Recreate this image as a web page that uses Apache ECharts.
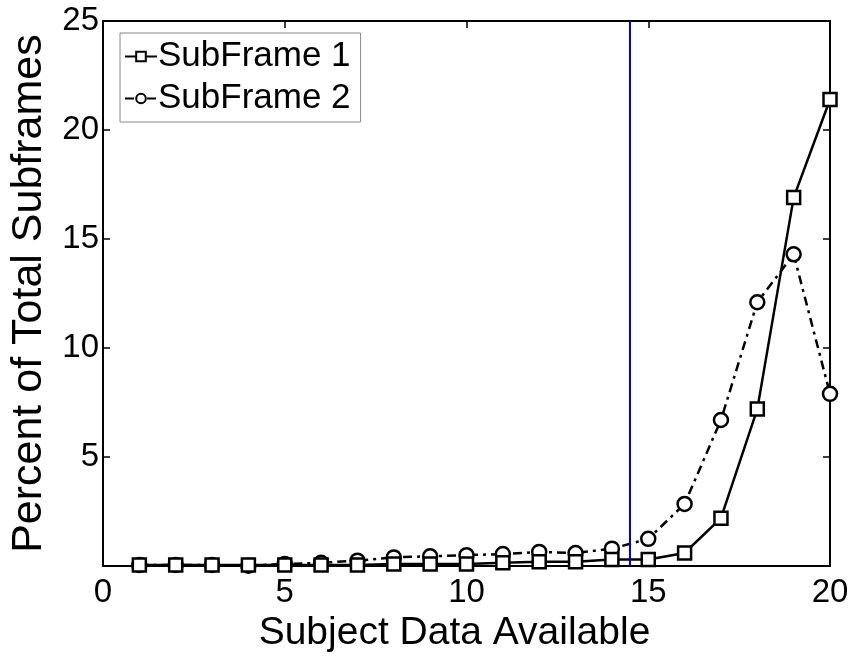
<!DOCTYPE html>
<html>
<head>
<meta charset="utf-8">
<script src="https://cdn.jsdelivr.net/npm/echarts@6/dist/echarts.min.js"></script>
<style>
  html, body { margin: 0; padding: 0; background: #fff; }
  #chart { width: 854px; height: 658px; }
</style>
</head>
<body>
<div id="chart"></div>
<script>
// data
const subjects = [1, 2, 3, 4, 5, 6, 7, 8, 9, 10, 11, 12, 13, 14, 15, 16, 17, 18, 19, 20]
const subFrame1 = [0.05, 0.05, 0.05, 0.05, 0.05, 0.05, 0.05, 0.1, 0.1, 0.1, 0.15, 0.2, 0.2, 0.3, 0.3, 0.6, 2.2, 7.2, 16.9, 21.4]
const subFrame2 = [0.05, 0.05, 0.05, 0.02, 0.1, 0.15, 0.25, 0.4, 0.45, 0.5, 0.55, 0.65, 0.6, 0.8, 1.25, 2.85, 6.7, 12.1, 14.3, 7.9]
const cutoffX = 14.5

const font = 'Liberation Sans, Arial, sans-serif'
const chart = echarts.init(document.getElementById('chart'), null, { renderer: 'canvas' })

const pairs = (vals) => subjects.map((x, i) => [x, vals[i]])

// box axes: ticks point inward on all four sides
const axisCommon = {
  axisLine: { show: true, onZero: false, lineStyle: { color: '#000', width: 2 } },
  axisTick: { show: true, inside: true, length: 7, lineStyle: { color: '#000', width: 1.5 } },
  splitLine: { show: false },
}

chart.setOption({
  backgroundColor: '#fff',
  animation: false,
  grid: { left: 103, right: 24, top: 21, bottom: 89, containLabel: false },
  legend: {
    orient: 'vertical',
    left: 120,
    top: 33,
    itemWidth: 32,
    itemHeight: 12,
    itemGap: 7,
    padding: [6, 10, 6, 4],
    borderColor: '#888',
    borderWidth: 1,
    backgroundColor: '#fff',
    textStyle: { fontFamily: font, fontSize: 35, color: '#000', padding: [0, 0, 0, -4] },
    data: ['SubFrame 1', 'SubFrame 2'],
  },
  xAxis: [
    {
      type: 'value',
      min: 0,
      max: 20,
      interval: 5,
      ...axisCommon,
      axisLabel: { color: '#000', fontFamily: font, fontSize: 33, margin: 10 },
      name: 'Subject Data Available',
      nameLocation: 'middle',
      nameGap: 38,
      nameTextStyle: { color: '#000', fontFamily: font, fontSize: 39, padding: [0, 24, 0, 0] },
    },
    {
      type: 'value',
      position: 'top',
      min: 0,
      max: 20,
      interval: 5,
      ...axisCommon,
      axisLabel: { show: false },
    },
  ],
  yAxis: [
    {
      type: 'value',
      min: 0,
      max: 25,
      interval: 5,
      ...axisCommon,
      axisLabel: {
        color: '#000',
        fontFamily: font,
        fontSize: 33,
        margin: 4,
        formatter: (v) => (v === 0 ? '' : String(v)),
      },
      name: 'Percent of Total Subframes',
      nameLocation: 'middle',
      nameGap: 52,
      nameTextStyle: { color: '#000', fontFamily: font, fontSize: 43 },
    },
    {
      type: 'value',
      position: 'right',
      min: 0,
      max: 25,
      interval: 5,
      ...axisCommon,
      axisLabel: { show: false },
    },
  ],
  series: [
    {
      name: 'SubFrame 1',
      type: 'line',
      data: pairs(subFrame1),
      symbol: 'rect',
      symbolSize: 13,
      showAllSymbol: true,
      lineStyle: { color: '#000', width: 2.5 },
      itemStyle: { color: '#fff', borderColor: '#000', borderWidth: 2.5 },
      markLine: {
        silent: true,
        symbol: 'none',
        label: { show: false },
        lineStyle: { color: '#0000ee', width: 2, type: 'solid' },
        data: [{ xAxis: cutoffX }],
      },
      z: 3,
    },
    {
      name: 'SubFrame 2',
      type: 'line',
      data: pairs(subFrame2),
      symbol: 'circle',
      symbolSize: 14,
      showAllSymbol: true,
      lineStyle: { color: '#000', width: 2.5, type: [9, 5, 3, 5] },
      itemStyle: { color: '#fff', borderColor: '#000', borderWidth: 2.5 },
      z: 2,
    },
  ],
})
</script>
</body>
</html>
